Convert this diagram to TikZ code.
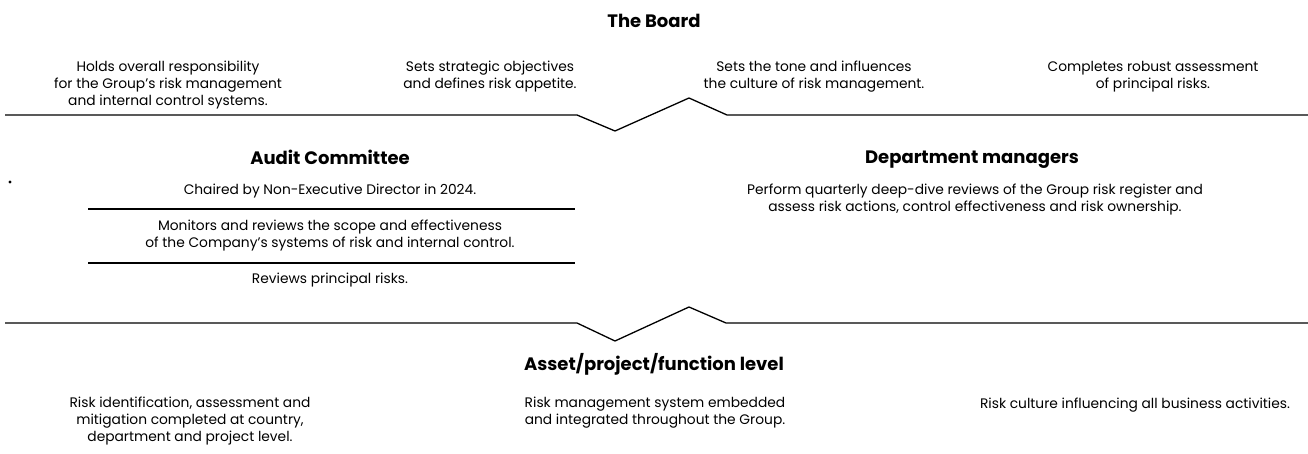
\documentclass[tikz,border=0pt]{standalone}
\usepackage{fontspec}
\setmainfont{Poppins}
\begin{document}
\begin{tikzpicture}[x=1pt,y=-1pt,
  txt/.style={align=center,font=\fontsize{13.8}{17}\selectfont,inner sep=0pt},
  head/.style={font=\fontsize{18}{20}\selectfont\bfseries,inner sep=0pt},
  rule/.style={line width=1.3pt,line join=miter}]
\useasboundingbox (0,0) rectangle (1308,454);
% headings
\node[head] (board) at (654,21) {The Board};
\node[head] (audit) at (330,157) {Audit Committee};
\node[head] (dept) at (972,159.5) {Department managers};
\node[head] (asset) at (654,364) {Asset/project/function level};
% board texts
\node[txt] (b1) at (168,85) {Holds overall responsibility\\for the Group's risk management\\and internal control systems.};
\node[txt] (b2) at (490,76.5) {Sets strategic objectives\\and defines risk appetite.};
\node[txt] (b3) at (814,76.5) {Sets the tone and influences\\the culture of risk management.};
\node[txt] (b4) at (1153,76.5) {Completes robust assessment\\of principal risks.};
% zigzag 1
\draw[rule] (5,115) -- (577,115) -- (615,131) -- (689,98) -- (727,115) -- (1308,115);
% audit committee
\node[txt] (a1) at (330,191) {Chaired by Non-Executive Director in 2024.};
\draw[rule] (88,209) -- (575,209);
\node[txt] (a2) at (330,235.5) {Monitors and reviews the scope and effectiveness\\of the Company's systems of risk and internal control.};
\draw[rule] (88,263) -- (575,263);
\node[txt] (a3) at (330,280) {Reviews principal risks.};
% department managers
\node[txt] (d1) at (975,199.5) {Perform quarterly deep-dive reviews of the Group risk register and\\assess risk actions, control effectiveness and risk ownership.};
% stray mark
\fill (10,182) circle (1.6);
% zigzag 2
\draw[rule] (5,323) -- (577,323) -- (615,341) -- (689,307) -- (726,323) -- (1308,323);
% asset level texts
\node[txt] (l1) at (190,421) {Risk identification, assessment and\\mitigation completed at country,\\department and project level.};
\node[txt] (l2) at (655,413) {Risk management system embedded\\and integrated throughout the Group.};
\node[txt] (l3) at (1135,405) {Risk culture influencing all business activities.};
\end{tikzpicture}
\end{document}
